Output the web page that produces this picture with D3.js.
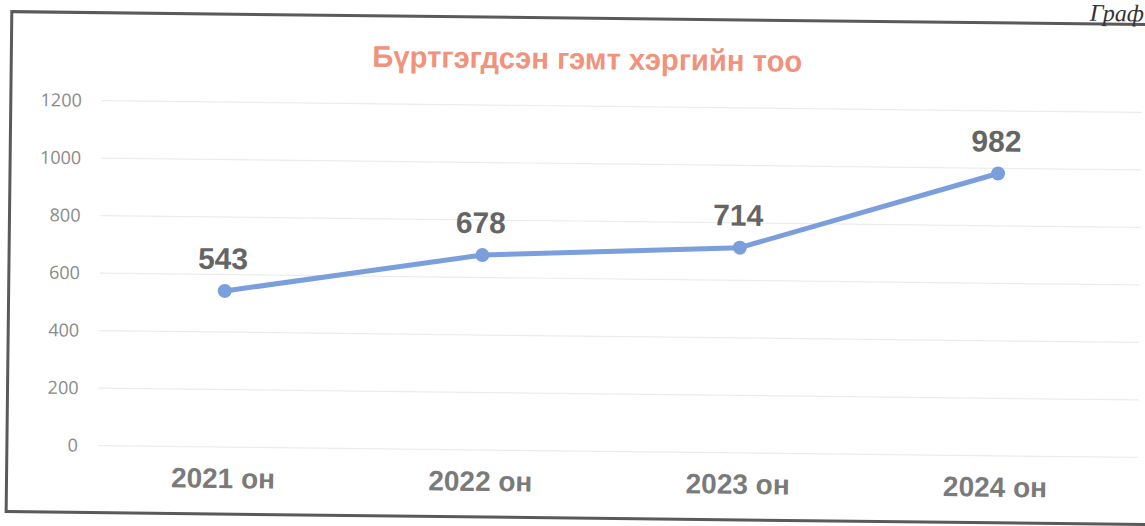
<!DOCTYPE html>
<html>
<head>
<meta charset="utf-8">
<script src="https://cdn.jsdelivr.net/npm/d3@7"></script>
<style>
html,body{margin:0;padding:0;background:#fff;overflow:hidden;}
svg{display:block;}
</style>
</head>
<body>
<svg id="chart" width="1145" height="526"></svg>
<script>
const title = "Бүртгэгдсэн гэмт хэргийн тоо";
const categories = ["2021 он", "2022 он", "2023 он", "2024 он"];
const values = [543, 678, 714, 982];
const yTicks = [0, 200, 400, 600, 800, 1000, 1200];
const pageCaption = "Граф";

const W = 1145, H = 526;
const svg = d3.select("#chart");
const g = svg.append("g").attr("transform", "rotate(0.65, 572, 263)");

// frame
g.append("rect").attr("x", 9).attr("y", 18).attr("width", 1200).attr("height", 500)
  .attr("fill", "#fff").attr("stroke", "#5a5a5a").attr("stroke-width", 3);

// page caption
g.append("text").attr("x", 1141).attr("y", 15).attr("text-anchor", "end")
  .attr("font-family", "Liberation Serif").attr("font-style", "italic")
  .attr("font-size", 24).attr("fill", "#333").text(pageCaption);

const x = d3.scalePoint().domain(categories).range([225, 997]);
const y = d3.scaleLinear().domain([0, 1200]).range([451, 106]);

// gridlines
g.append("g").selectAll("line").data(yTicks).join("line")
  .attr("x1", 100).attr("x2", 1140)
  .attr("y1", d => y(d)).attr("y2", d => y(d))
  .attr("stroke", "#ececec").attr("stroke-width", 1.2);

// y axis labels
const yAxis = d3.axisLeft(y).tickValues(yTicks).tickFormat(d3.format("d")).tickSize(0).tickPadding(0);
const ya = g.append("g").attr("transform", "translate(80,0)").call(yAxis);
ya.select(".domain").remove();
ya.selectAll("text").attr("font-family", "Open Sans").attr("font-size", 18)
  .attr("fill", "#8a8a8a");

// x axis labels
const xAxis = d3.axisBottom(x).tickSize(0).tickPadding(0);
const xa = g.append("g").attr("transform", "translate(0,472)").call(xAxis);
xa.select(".domain").remove();
xa.selectAll("text").attr("font-family", "Liberation Sans").attr("font-weight", "bold")
  .attr("font-size", 28).attr("fill", "#7a7a7a").attr("dy", "0.71em");

// title
g.append("text").attr("x", 585).attr("y", 69).attr("text-anchor", "middle")
  .attr("font-family", "Liberation Sans").attr("font-weight", "bold")
  .attr("font-size", 30).attr("fill", "#f0927c")
  .attr("textLength", 430).attr("lengthAdjust", "spacingAndGlyphs")
  .text(title);

// line
const line = d3.line().x((d, i) => x(categories[i])).y(d => y(d));
g.append("path").datum(values).attr("d", line).attr("fill", "none")
  .attr("stroke", "#7b9fdc").attr("stroke-width", 5).attr("stroke-linejoin", "round");

g.append("g").selectAll("circle").data(values).join("circle")
  .attr("cx", (d, i) => x(categories[i])).attr("cy", d => y(d)).attr("r", 7)
  .attr("fill", "#7b9fdc");

// value labels
g.append("g").selectAll("text").data(values).join("text")
  .attr("x", (d, i) => x(categories[i]) - 2).attr("y", d => y(d) - 22)
  .attr("text-anchor", "middle").attr("font-family", "Liberation Sans")
  .attr("font-weight", "bold").attr("font-size", 30).attr("fill", "#656565")
  .text(d => d);
</script>
</body>
</html>
